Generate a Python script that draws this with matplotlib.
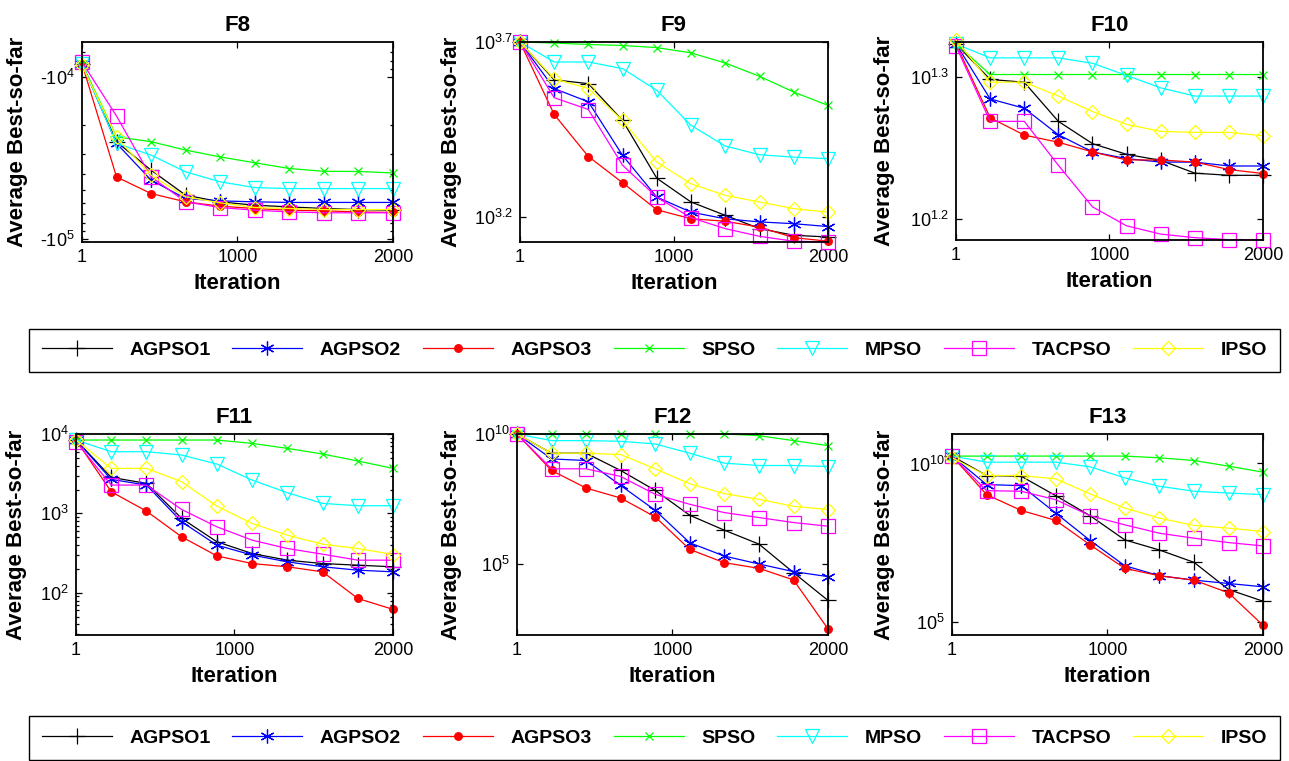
import matplotlib
matplotlib.use("Agg")
from matplotlib import pyplot as plt
from matplotlib import ticker

plt.rcParams["font.family"] = ["Liberation Sans", "DejaVu Sans"]
plt.rcParams["mathtext.fontset"] = "custom"
plt.rcParams["mathtext.rm"] = "Liberation Sans"
plt.rcParams["mathtext.default"] = "regular"

iterations = [1, 223, 445, 667, 889, 1111, 1333, 1556, 1778, 2000]
algorithms = ["AGPSO1", "AGPSO2", "AGPSO3", "SPSO", "MPSO", "TACPSO", "IPSO"]

# F8 (negative values, plotted on a reversed log axis like MATLAB does)
f8_agpso1 = [-8.3e3, -2.52e4, -3.78e4, -5.39e4, -5.93e4, -6.22e4, -6.37e4, -6.52e4, -6.62e4, -6.68e4]
f8_agpso2 = [-8.3e3, -2.58e4, -4.35e4, -5.66e4, -5.85e4, -5.93e4, -5.98e4, -5.98e4, -5.98e4, -5.98e4]
f8_agpso3 = [-8.3e3, -4.16e4, -5.27e4, -5.93e4, -6.31e4, -6.52e4, -6.68e4, -6.74e4, -6.84e4, -6.90e4]
f8_spso = [-8.3e3, -2.35e4, -2.52e4, -2.84e4, -3.13e4, -3.40e4, -3.69e4, -3.84e4, -3.85e4, -3.93e4]
f8_mpso = [-8.3e3, -2.58e4, -3.05e4, -3.87e4, -4.46e4, -4.84e4, -4.91e4, -4.91e4, -4.91e4, -4.91e4]
f8_tacpso = [-8.1e3, -1.75e4, -4.16e4, -5.93e4, -6.43e4, -6.68e4, -6.84e4, -6.93e4, -6.93e4, -6.93e4]
f8_ipso = [-8.5e3, -2.37e4, -4.06e4, -5.52e4, -6.01e4, -6.43e4, -6.52e4, -6.62e4, -6.62e4, -6.62e4]

# F9
f9_agpso1 = [5012, 3908, 3811, 2992, 2046, 1750, 1603, 1469, 1406, 1390]
f9_agpso2 = [5012, 3690, 3381, 2377, 1807, 1637, 1567, 1535, 1517, 1489]
f9_agpso3 = [5012, 3112, 2360, 1986, 1663, 1567, 1542, 1483, 1384, 1352]
f9_spso = [5012, 4977, 4932, 4898, 4831, 4667, 4365, 4000, 3606, 3304]
f9_mpso = [5012, 4395, 4395, 4207, 3648, 2897, 2529, 2388, 2350, 2328]
f9_tacpso = [5012, 3475, 3214, 2228, 1807, 1578, 1469, 1396, 1352, 1346]
f9_ipso = [5012, 3936, 3690, 2992, 2275, 1972, 1828, 1750, 1675, 1637]

# F10
f10_agpso1 = [21.06, 19.88, 19.79, 18.57, 17.91, 17.60, 17.43, 17.07, 17.01, 17.01]
f10_agpso2 = [21.06, 19.26, 18.97, 18.17, 17.67, 17.48, 17.38, 17.38, 17.27, 17.27]
f10_agpso3 = [21.06, 18.68, 18.16, 17.95, 17.67, 17.44, 17.44, 17.38, 17.17, 17.06]
f10_spso = [21.06, 20.04, 20.04, 20.04, 20.04, 20.04, 20.04, 20.04, 20.04, 20.04]
f10_mpso = [21.06, 20.59, 20.59, 20.59, 20.41, 20.01, 19.61, 19.35, 19.35, 19.35]
f10_tacpso = [20.98, 18.57, 18.57, 17.29, 16.16, 15.67, 15.46, 15.37, 15.32, 15.32]
f10_ipso = [21.20, 19.79, 19.79, 19.35, 18.87, 18.48, 18.27, 18.24, 18.24, 18.14]

# F11
f11_agpso1 = [8395, 2844, 2388, 865, 440, 313, 258, 234, 223, 213]
f11_agpso2 = [8395, 2685, 2275, 785, 399, 299, 246, 213, 193, 184]
f11_agpso3 = [8395, 1875, 1069, 508, 292, 234, 213, 184, 85, 62]
f11_spso = [8395, 8395, 8395, 8395, 8395, 7621, 6592, 5598, 4571, 3690]
f11_mpso = [8395, 5984, 5984, 5433, 4188, 2630, 1824, 1337, 1250, 1250]
f11_tacpso = [8000, 2275, 2275, 1122, 679, 461, 362, 307, 258, 258]
f11_ipso = [8395, 3690, 3690, 2506, 1236, 748, 533, 410, 362, 304]

# F12
f12_agpso1 = [1e10, 1.82e9, 1.82e9, 3.95e8, 6.79e7, 7.50e6, 2.00e6, 5.82e5, 4.66e4, 3.95e3]
f12_agpso2 = [1e10, 1.10e9, 9.55e8, 1.05e8, 1.16e7, 6.55e5, 2.02e5, 1.0e5, 5.09e4, 3.27e4]
f12_agpso3 = [1e10, 3.95e8, 8.34e7, 3.45e7, 6.47e6, 3.64e5, 1.12e5, 6.82e4, 2.44e4, 316]
f12_spso = [1e10, 1e10, 1e10, 1e10, 1e10, 1e10, 1e10, 8.63e9, 5.56e9, 3.58e9]
f12_mpso = [1e10, 5.56e9, 5.56e9, 5.24e9, 4.14e9, 1.82e9, 7.55e8, 6.14e8, 6.14e8, 5.62e8]
f12_tacpso = [1e10, 4.58e8, 4.58e8, 2.33e8, 4.78e7, 1.98e7, 9.48e6, 6.11e6, 3.93e6, 2.84e6]
f12_ipso = [1e10, 1.82e9, 1.82e9, 1.62e9, 4.58e8, 1.22e8, 5.06e7, 3.07e7, 1.66e7, 1.24e7]

# F13
f13_agpso1 = [1.71e10, 4.16e9, 3.96e9, 9.66e8, 2.24e8, 3.89e7, 1.87e7, 7.62e6, 1.06e6, 4.52e5]
f13_agpso2 = [1.71e10, 2.16e9, 2.00e9, 2.73e8, 3.71e7, 5.97e6, 2.88e6, 2.09e6, 1.64e6, 1.29e6]
f13_agpso3 = [1.71e10, 1.04e9, 3.31e8, 1.60e8, 2.70e7, 4.91e6, 2.88e6, 2.09e6, 8.32e5, 7.83e4]
f13_spso = [1.71e10, 1.71e10, 1.71e10, 1.71e10, 1.71e10, 1.71e10, 1.51e10, 1.24e10, 8.22e9, 5.31e9]
f13_mpso = [1.71e10, 1.10e10, 1.10e10, 1.10e10, 7.83e9, 3.51e9, 1.91e9, 1.33e9, 1.17e9, 1.04e9]
f13_tacpso = [1.71e10, 1.39e9, 1.33e9, 7.21e8, 2.24e8, 1.16e8, 6.32e7, 4.40e7, 3.20e7, 2.51e7]
f13_ipso = [1.51e10, 4.16e9, 4.16e9, 3.27e9, 1.09e9, 3.93e8, 1.89e8, 1.11e8, 9.12e7, 7.14e7]

styles = [
    dict(color="#000000", marker="+", ms=12, mfc="none"),
    dict(color="#0000ff", marker=(6, 2, 0), ms=10, mfc="none"),
    dict(color="#ff0000", marker="o", ms=5.5, mfc="#ff0000"),
    dict(color="#00ff00", marker="x", ms=6, mfc="none"),
    dict(color="#00ffff", marker="v", ms=10.5, mfc="none"),
    dict(color="#ff00ff", marker="s", ms=10, mfc="none"),
    dict(color="#ffff00", marker="D", ms=7.5, mfc="none"),
]

panels = [
    ("F8", [f8_agpso1, f8_agpso2, f8_agpso3, f8_spso, f8_mpso, f8_tacpso, f8_ipso],
     [0.0636, 0.682, 0.2413, 0.2628], -0.174),
    ("F9", [f9_agpso1, f9_agpso2, f9_agpso3, f9_spso, f9_mpso, f9_tacpso, f9_ipso],
     [0.4034, 0.682, 0.2389, 0.2628], -0.188),
    ("F10", [f10_agpso1, f10_agpso2, f10_agpso3, f10_spso, f10_mpso, f10_tacpso, f10_ipso],
     [0.7417, 0.684, 0.2382, 0.2605], -0.199),
    ("F11", [f11_agpso1, f11_agpso2, f11_agpso3, f11_spso, f11_mpso, f11_tacpso, f11_ipso],
     [0.0590, 0.1656, 0.2459, 0.2641], -0.155),
    ("F12", [f12_agpso1, f12_agpso2, f12_agpso3, f12_spso, f12_mpso, f12_tacpso, f12_ipso],
     [0.4011, 0.1656, 0.2413, 0.2641], -0.177),
    ("F13", [f13_agpso1, f13_agpso2, f13_agpso3, f13_spso, f13_mpso, f13_tacpso, f13_ipso],
     [0.7386, 0.1656, 0.2413, 0.2641], -0.183),
]

fig = plt.figure(figsize=(12.89, 7.61), dpi=100)

handles = None
for title, series, pos, ylab_x in panels:
    ax = fig.add_axes(pos)
    lines = []
    for name, vals, st in zip(algorithms, series, styles):
        if title == "F8":
            vals = [-v for v in vals]
        ln, = ax.plot(iterations, vals, linestyle="-", linewidth=0.9, label=name,
                      clip_on=False, markeredgewidth=0.9, **st)
        lines.append(ln)
    handles = lines
    ax.set_yscale("log")

    if title == "F8":
        ax.set_ylim(1.05e5, 6.1e3)
        ax.yaxis.set_major_locator(ticker.FixedLocator([1e4, 1e5]))
        ax.yaxis.set_major_formatter(ticker.FixedFormatter(["-$10^{4}$", "-$10^{5}$"]))
        ax.yaxis.set_minor_locator(ticker.LogLocator(base=10, subs=range(2, 10)))
        ax.yaxis.set_minor_formatter(ticker.NullFormatter())
    elif title == "F9":
        ax.set_ylim(1345, 5012)
        ax.yaxis.set_major_locator(ticker.FixedLocator([10 ** 3.2, 10 ** 3.7]))
        ax.yaxis.set_major_formatter(ticker.FixedFormatter([r"$10^{3.2}$", r"$10^{3.7}$"]))
        ax.yaxis.set_minor_locator(ticker.NullLocator())
    elif title == "F10":
        ax.set_ylim(15.30, 21.12)
        ax.yaxis.set_major_locator(ticker.FixedLocator([10 ** 1.2, 10 ** 1.3]))
        ax.yaxis.set_major_formatter(ticker.FixedFormatter([r"$10^{1.2}$", r"$10^{1.3}$"]))
        ax.yaxis.set_minor_locator(ticker.NullLocator())
    elif title == "F11":
        ax.set_ylim(29.5, 1e4)
        ax.yaxis.set_major_locator(ticker.FixedLocator([1e2, 1e3, 1e4]))
        ax.yaxis.set_major_formatter(ticker.FixedFormatter([r"$10^{2}$", r"$10^{3}$", r"$10^{4}$"]))
        ax.yaxis.set_minor_locator(ticker.LogLocator(base=10, subs=range(2, 10)))
        ax.yaxis.set_minor_formatter(ticker.NullFormatter())
    elif title == "F12":
        ax.set_ylim(186, 1e10)
        ax.yaxis.set_major_locator(ticker.FixedLocator([1e5, 1e10]))
        ax.yaxis.set_major_formatter(ticker.FixedFormatter([r"$10^{5}$", r"$10^{10}$"]))
        ax.yaxis.set_minor_locator(ticker.NullLocator())
    else:
        ax.set_ylim(3.9e4, 8.5e10)
        ax.yaxis.set_major_locator(ticker.FixedLocator([1e5, 1e10]))
        ax.yaxis.set_major_formatter(ticker.FixedFormatter([r"$10^{5}$", r"$10^{10}$"]))
        ax.yaxis.set_minor_locator(ticker.NullLocator())

    ax.set_xlim(1, 2000)
    ax.set_xticks([1, 1000, 2000])
    ax.set_xticklabels(["1", "1000", "2000"])
    ax.tick_params(which="both", direction="in", top=True, right=True, labelsize=13,
                   width=0.9, pad=5)
    ax.tick_params(which="major", length=4)
    ax.tick_params(which="minor", length=2.2)
    for sp in ax.spines.values():
        sp.set_linewidth(1.3)

    ax.set_title(title, fontsize=16, fontweight="bold", pad=8)
    ax.set_xlabel("Iteration", fontsize=16, fontweight="bold", labelpad=5)
    ax.set_ylabel("Average Best-so-far", fontsize=16, fontweight="bold")
    ax.yaxis.set_label_coords(ylab_x, 0.5)

# legend boxes span the figure width, one row of seven entries
for yc in [0.5395, 0.0302]:
    leg = fig.legend(handles, algorithms, loc="center", bbox_to_anchor=(0.5078, yc),
                     ncol=7, numpoints=1, handlelength=3.6, handletextpad=0.9,
                     columnspacing=1.13, borderpad=0.66, borderaxespad=0, fancybox=False,
                     edgecolor="k", framealpha=1, prop=dict(weight="bold", size=14))
    leg.get_frame().set_linewidth(1.0)

plt.savefig("out.png", dpi=100)
